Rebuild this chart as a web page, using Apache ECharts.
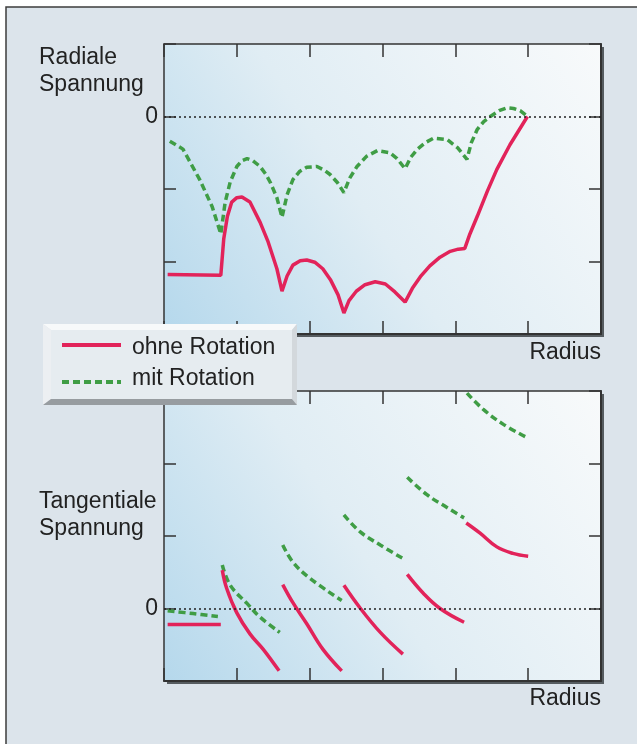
<!DOCTYPE html>
<html>
<head>
<meta charset="utf-8">
<script src="https://cdn.jsdelivr.net/npm/echarts@6/dist/echarts.min.js"></script>
<style>
  html, body { margin: 0; padding: 0; background: #ffffff; }
  #main { width: 637px; height: 744px; }
</style>
</head>
<body>
<div id="main"></div>
<script>
// Radiale Spannung (oben), x = Radius 0..6, y = -3..1
var radOhne = [[0.05, -2.18], [0.78, -2.19], [0.82, -1.69], [0.87, -1.38], [0.93, -1.18], [1.00, -1.12],
    [1.07, -1.11], [1.18, -1.18], [1.32, -1.46], [1.43, -1.73], [1.55, -2.10], [1.62, -2.41],
    [1.69, -2.20], [1.77, -2.05], [1.87, -1.99], [1.96, -1.98], [2.07, -2.01], [2.18, -2.10], [2.29, -2.26],
    [2.39, -2.46], [2.47, -2.71],
    [2.54, -2.54], [2.64, -2.41], [2.76, -2.32], [2.90, -2.28], [3.04, -2.31], [3.17, -2.42], [3.31, -2.56],
    [3.41, -2.37], [3.52, -2.21], [3.65, -2.06], [3.79, -1.94], [3.93, -1.86], [4.04, -1.83], [4.13, -1.82],
    [4.20, -1.62], [4.30, -1.38], [4.44, -1.03], [4.57, -0.73], [4.75, -0.39], [4.99, 0]]

var radMit = [[0.08, -0.34], [0.26, -0.45], [0.49, -0.87], [0.66, -1.24], [0.78, -1.62],
    [0.84, -1.18], [0.91, -0.90], [1.00, -0.69], [1.07, -0.61], [1.14, -0.58], [1.22, -0.61], [1.32, -0.69],
    [1.40, -0.80], [1.46, -0.91], [1.55, -1.12], [1.62, -1.39],
    [1.69, -1.08], [1.77, -0.87], [1.86, -0.76], [1.96, -0.70], [2.10, -0.69], [2.20, -0.74], [2.28, -0.80],
    [2.38, -0.91], [2.47, -1.05],
    [2.55, -0.85], [2.65, -0.69], [2.78, -0.55], [2.93, -0.47], [3.10, -0.50], [3.20, -0.58], [3.31, -0.72],
    [3.39, -0.56], [3.48, -0.45], [3.59, -0.36], [3.70, -0.30], [3.89, -0.32], [4.03, -0.43], [4.16, -0.59],
    [4.22, -0.36], [4.30, -0.18], [4.39, -0.07], [4.48, 0], [4.60, 0.08], [4.71, 0.12], [4.80, 0.11],
    [4.89, 0.08], [4.99, 0]]

// Tangentiale Spannung (unten), y = -1..3, ein Teilstück je Ring
var tanOhne = [
    [[0.05, -0.22], [0.78, -0.22]],
    [[0.80, 0.53], [0.86, 0.28], [1.00, -0.06], [1.18, -0.35], [1.36, -0.56], [1.58, -0.86]],
    [[1.63, 0.33], [1.77, 0.08], [1.96, -0.21], [2.18, -0.56], [2.44, -0.86]],
    [[2.47, 0.32], [2.69, 0.01], [2.97, -0.33], [3.28, -0.63]],
    [[3.34, 0.47], [3.56, 0.21], [3.79, 0], [4.12, -0.19]],
    [[4.15, 1.18], [4.34, 1.04], [4.57, 0.85], [4.79, 0.76], [5.0, 0.72]]
]

var tanMit = [
    [[0.05, -0.03], [0.40, -0.07], [0.74, -0.11]],
    [[0.80, 0.60], [0.91, 0.32], [1.14, 0.07], [1.32, -0.12], [1.59, -0.33]],
    [[1.63, 0.875], [1.77, 0.64], [2.0, 0.42], [2.44, 0.11]],
    [[2.47, 1.29], [2.69, 1.06], [2.97, 0.875], [3.28, 0.69]],
    [[3.34, 1.81], [3.61, 1.57], [3.89, 1.39], [4.12, 1.25]],
    [[4.16, 2.97], [4.38, 2.75], [4.66, 2.54], [5.0, 2.35]]
]

var xRange = [0, 6]
var radRange = [-3, 1]
var tanRange = [-1, 3]

var red = '#e2235a'
var green = '#3f9d45'
var txt = '#222222'
var font = '23px "Liberation Sans", Arial, sans-serif'

var dom = document.getElementById('main')
var myChart = echarts.init(dom, null, {renderer: 'canvas'})

function plotBg() {
    return new echarts.graphic.LinearGradient(0, 1, 1, 0, [
        {offset: 0, color: '#b5d8ec'},
        {offset: 0.45, color: '#e0edf4'},
        {offset: 1, color: '#f8fafb'}
    ])
}

function xAx(gridIndex, pos) {
    return {
        type: 'value', gridIndex: gridIndex, position: pos,
        min: xRange[0], max: xRange[1], interval: 1,
        axisLine: {show: true, onZero: false, lineStyle: {color: '#333', width: pos === 'bottom' ? 2 : 1.5}},
        axisTick: {show: true, inside: true, length: 13, lineStyle: {color: '#333', width: 1.5}},
        axisLabel: {show: false},
        splitLine: {show: false}
    }
}

function yAx(gridIndex, pos, range) {
    return {
        type: 'value', gridIndex: gridIndex, position: pos,
        min: range[0], max: range[1], interval: 1,
        axisLine: {show: true, onZero: false, lineStyle: {color: '#333', width: pos === 'right' ? 2 : 1.5}},
        axisTick: {show: true, inside: true, length: 12, lineStyle: {color: '#333', width: 1.5}},
        axisLabel: {
            show: pos === 'left', margin: 6, color: txt, fontSize: 23,
            fontFamily: '"Liberation Sans", Arial, sans-serif',
            formatter: function (v) { return v === 0 ? '0' : '' }
        },
        splitLine: {show: false}
    }
}

var zeroLine = {
    silent: true,
    symbol: 'none',
    label: {show: false},
    lineStyle: {color: '#222', width: 1.5, type: [2, 3]},
    data: [{yAxis: 0}]
}

var series = [
    {
        name: 'mit Rotation', type: 'line', xAxisIndex: 0, yAxisIndex: 0,
        data: radMit, symbol: 'none', smooth: false,
        lineStyle: {color: green, width: 3.5, type: [7, 4]},
        markLine: zeroLine, z: 3
    },
    {
        name: 'ohne Rotation', type: 'line', xAxisIndex: 0, yAxisIndex: 0,
        data: radOhne, symbol: 'none', smooth: false,
        lineStyle: {color: red, width: 3.5}, z: 4
    }
]

tanMit.forEach(function (seg, i) {
    series.push({
        name: 'mit Rotation', type: 'line', xAxisIndex: 2, yAxisIndex: 2,
        data: seg, symbol: 'none', smooth: 0.4,
        lineStyle: {color: green, width: 3.5, type: [7, 4]},
        markLine: i === 0 ? zeroLine : undefined, z: 3
    })
})
tanOhne.forEach(function (seg) {
    series.push({
        name: 'ohne Rotation', type: 'line', xAxisIndex: 2, yAxisIndex: 2,
        data: seg, symbol: 'none', smooth: 0.4,
        lineStyle: {color: red, width: 3.5}, z: 4
    })
})

var gridBase = {
    width: 437, height: 290, show: true, borderWidth: 0,
    shadowColor: '#565c60', shadowBlur: 0, shadowOffsetX: 3, shadowOffsetY: 3
}

var option = {
    animation: false,
    backgroundColor: '#ffffff',
    grid: [
        Object.assign({left: 164, top: 44, backgroundColor: plotBg()}, gridBase),
        Object.assign({left: 164, top: 391, backgroundColor: plotBg()}, gridBase)
    ],
    xAxis: [xAx(0, 'bottom'), xAx(0, 'top'), xAx(1, 'bottom'), xAx(1, 'top')],
    yAxis: [yAx(0, 'left', radRange), yAx(0, 'right', radRange), yAx(1, 'left', tanRange), yAx(1, 'right', tanRange)],
    series: series,
    graphic: [
        // Rahmen
        {type: 'rect', z: -10, shape: {x: 6, y: 7, width: 700, height: 800},
            style: {fill: '#dce4eb', stroke: '#3c3c3c', lineWidth: 1.5}},
        {type: 'text', left: 39, top: 44, z: 5,
            style: {text: 'Radiale\nSpannung', font: font, fill: txt, lineHeight: 27}},
        {type: 'text', right: 36, top: 341, z: 5,
            style: {text: 'Radius', font: font, fill: txt}},
        {type: 'text', left: 39, top: 488, z: 5,
            style: {text: 'Tangentiale\nSpannung', font: font, fill: txt, lineHeight: 27}},
        {type: 'text', right: 36, top: 687, z: 5,
            style: {text: 'Radius', font: font, fill: txt}},
        // Legende
        {
            type: 'group', z: 100,
            children: [
                {type: 'polygon', z: 100, shape: {points: [[43, 324], [297, 324], [292, 330], [51, 330]]}, style: {fill: '#f7f9fa'}},
                {type: 'polygon', z: 100, shape: {points: [[43, 324], [51, 330], [51, 399], [43, 405]]}, style: {fill: '#eceff2'}},
                {type: 'polygon', z: 100, shape: {points: [[297, 324], [297, 405], [292, 399], [292, 330]]}, style: {fill: '#d3d8dc'}},
                {type: 'polygon', z: 100, shape: {points: [[43, 405], [297, 405], [292, 399], [51, 399]]}, style: {fill: '#979ca0'}},
                {type: 'rect', z: 100, shape: {x: 51, y: 330, width: 241, height: 69}, style: {fill: '#e6ecf0'}},
                {type: 'line', z: 101, shape: {x1: 62, y1: 345, x2: 121, y2: 345}, style: {stroke: red, lineWidth: 4}},
                {type: 'line', z: 101, shape: {x1: 62, y1: 382, x2: 121, y2: 382}, style: {stroke: green, lineWidth: 4, lineDash: [7, 4]}},
                {type: 'text', z: 101, x: 132, y: 348, style: {text: 'ohne Rotation', font: font, fill: txt, textVerticalAlign: 'middle'}},
                {type: 'text', z: 101, x: 132, y: 379, style: {text: 'mit Rotation', font: font, fill: txt, textVerticalAlign: 'middle'}}
            ]
        }
    ]
}

myChart.setOption(option)
</script>
</body>
</html>
